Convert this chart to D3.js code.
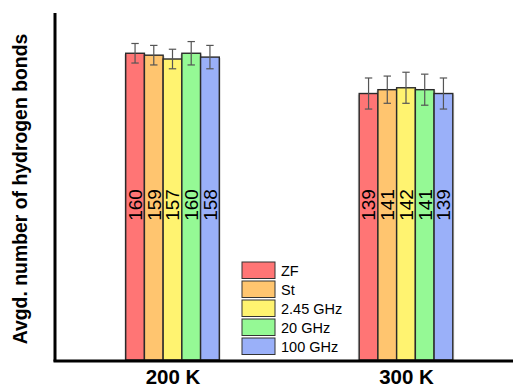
<!DOCTYPE html>
<html>
<head>
<meta charset="utf-8">
<script src="https://cdn.jsdelivr.net/npm/d3@7"></script>
<style>
  html, body { margin: 0; padding: 0; background: #fff; }
  svg { display: block; font-family: Arial, "Liberation Sans", sans-serif; }
</style>
</head>
<body>
<svg id="chart" width="513" height="388"></svg>
<script>
// Temperatures on the x axis and field conditions within each group
const temperatures = ["200 K", "300 K"];
const conditions = ["ZF", "St", "2.45 GHz", "20 GHz", "100 GHz"];
const colors = ["#ff7575", "#ffc56f", "#fff370", "#95f995", "#9ab0f9"];

// Mean number of hydrogen bonds per condition, one array per temperature
const values200K = [160, 159, 157, 160, 158];
const values300K = [139, 141, 142, 141, 139];
// Standard deviations for the error bars
const errors200K = [5.1, 5.1, 5.1, 6.1, 6.1];
const errors300K = [8.1, 7.1, 8.1, 8.1, 8.1];

const yTitle = "Avgd. number of hydrogen bonds";

const data = temperatures.map((t, i) => ({
  temp: t,
  bars: conditions.map((c, j) => ({
    cond: c,
    color: colors[j],
    value: i === 0 ? values200K[j] : values300K[j],
    err: i === 0 ? errors200K[j] : errors300K[j]
  }))
}));

const svg = d3.select("#chart");
const plotLeft = 55, plotRight = 513, plotTop = 13, plotBottom = 360;

const x0 = d3.scalePoint().domain(temperatures).range([172.5, 406]);
const bandW = 93.6;
const x1 = d3.scaleBand().domain(conditions).range([-bandW / 2, bandW / 2]).padding(0);
const y = d3.scaleLinear().domain([0, 181]).range([plotBottom, plotTop]);

const groups = svg.selectAll("g.grp").data(data).join("g")
  .attr("class", "grp")
  .attr("transform", d => `translate(${x0(d.temp)},0)`);

// soft shadow behind each group of bars
groups.selectAll("rect.shadow").data(d => d.bars).join("rect")
  .attr("class", "shadow")
  .attr("x", d => x1(d.cond) - 1.5)
  .attr("y", d => y(d.value) + 1)
  .attr("width", x1.bandwidth() + 3)
  .attr("height", d => plotBottom - y(d.value) - 1)
  .attr("fill", "#999")
  .attr("opacity", 0.35);

groups.selectAll("rect.bar").data(d => d.bars).join("rect")
  .attr("class", "bar")
  .attr("x", d => x1(d.cond))
  .attr("y", d => y(d.value))
  .attr("width", x1.bandwidth())
  .attr("height", d => plotBottom - y(d.value))
  .attr("fill", d => d.color)
  .attr("stroke", "#2a2a2a")
  .attr("stroke-width", 1.4);

// error bars
const eb = groups.selectAll("g.err").data(d => d.bars).join("g")
  .attr("class", "err")
  .attr("transform", d => `translate(${x1(d.cond) + x1.bandwidth() / 2},0)`)
  .attr("stroke", "#555")
  .attr("stroke-width", 1.2);
eb.append("line")
  .attr("y1", d => y(d.value + d.err)).attr("y2", d => y(d.value - d.err));
eb.append("line")
  .attr("x1", -3.7).attr("x2", 3.7)
  .attr("y1", d => y(d.value + d.err)).attr("y2", d => y(d.value + d.err));
eb.append("line")
  .attr("x1", -3.7).attr("x2", 3.7)
  .attr("y1", d => y(d.value - d.err)).attr("y2", d => y(d.value - d.err));

// value labels written vertically inside the bars
groups.selectAll("text.val").data(d => d.bars).join("text")
  .attr("class", "val")
  .attr("transform", d => `translate(${x1(d.cond) + x1.bandwidth() / 2 + 6.8},205) rotate(-90)`)
  .attr("text-anchor", "middle")
  .attr("font-size", 19)
  .attr("fill", "#000")
  .text(d => d.value);

// axes
svg.append("line")
  .attr("x1", plotLeft).attr("x2", plotLeft)
  .attr("y1", plotTop).attr("y2", plotBottom + 1.5)
  .attr("stroke", "#000").attr("stroke-width", 3);
svg.append("line")
  .attr("x1", plotLeft - 1.5).attr("x2", plotRight)
  .attr("y1", plotBottom + 1).attr("y2", plotBottom + 1)
  .attr("stroke", "#000").attr("stroke-width", 3);

// category labels
const xAxis = d3.axisBottom(x0).tickSize(0).tickPadding(0);
const gx = svg.append("g").attr("transform", `translate(0,${plotBottom})`).call(xAxis);
gx.select(".domain").remove();
gx.selectAll("text")
  .attr("y", 24)
  .attr("dy", 0)
  .attr("font-size", 20.5)
  .attr("font-weight", "bold")
  .attr("font-family", "Arial, 'Liberation Sans', sans-serif")
  .attr("fill", "#000");

// y axis title
svg.append("text")
  .attr("transform", "translate(27,189) rotate(-90)")
  .attr("text-anchor", "middle")
  .attr("font-size", 19.4)
  .attr("font-weight", "bold")
  .attr("fill", "#000")
  .text(yTitle);

// legend
const legend = svg.append("g").attr("transform", "translate(242,262)");
const rows = legend.selectAll("g").data(conditions).join("g")
  .attr("transform", (d, i) => `translate(0,${i * 19})`);
rows.append("rect")
  .attr("width", 33).attr("height", 16.5)
  .attr("fill", (d, i) => colors[i])
  .attr("stroke", "#333").attr("stroke-width", 1);
rows.append("text")
  .attr("x", 39).attr("y", 13.5)
  .attr("font-size", 14.5)
  .attr("fill", "#000")
  .text(d => d);
</script>
</body>
</html>
